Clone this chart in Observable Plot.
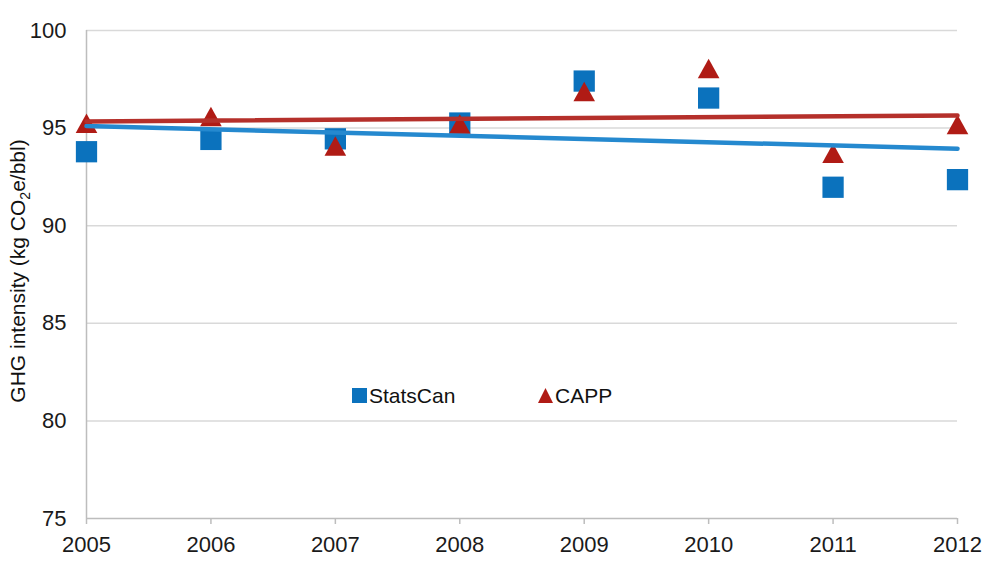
<!DOCTYPE html>
<html>
<head>
<meta charset="utf-8">
<script src="https://cdn.jsdelivr.net/npm/d3@7"></script>
<script src="https://cdn.jsdelivr.net/npm/@observablehq/plot@0.6"></script>
<style>
  html, body { margin: 0; padding: 0; background: #fff; }
  #chart { position: relative; width: 1000px; height: 563px; }
  svg { font-family: "Liberation Sans", Arial, sans-serif; }
</style>
</head>
<body>
<div id="chart"></div>
<script>
const years = [2005, 2006, 2007, 2008, 2009, 2010, 2011, 2012];
const statsCan = [93.79, 94.42, 94.45, 95.26, 97.41, 96.54, 91.97, 92.36];
const capp = [95.25, 95.6, 94.08, 95.21, 96.88, 98.05, 93.71, 95.18];
const yTicks = [75, 80, 85, 90, 95, 100];
const gridTicks = [80, 85, 90, 95, 100];
const seriesNames = ["StatsCan", "CAPP"];

const blue = "#0b72bd";
const blueLine = "#2589cf";
const red = "#b01b15";
const redLine = "#b5302b";

// triangle symbol centred on its bounding box (as in spreadsheet charts)
const boxTriangle = {
  draw(context, size) {
    const r = Math.sqrt(size / Math.PI);
    const hw = 1.35 * r, hh = 1.22 * r;
    context.moveTo(0, -hh);
    context.lineTo(hw, hh);
    context.lineTo(-hw, hh);
    context.closePath();
  }
};

const sc = years.map((x, i) => ({x, y: statsCan[i]}));
const cp = years.map((x, i) => ({x, y: capp[i]}));

const plot = Plot.plot({
  width: 1000,
  height: 563,
  marginLeft: 86,
  marginRight: 43,
  marginTop: 30,
  marginBottom: 45,
  style: {fontFamily: "'Liberation Sans', Arial, sans-serif", fontSize: "22px", color: "#1a1a1a", background: "#fff"},
  x: {domain: [2005, 2012], ticks: years, tickFormat: d3.format("d"), tickSize: 6, tickPadding: 12, label: null, line: false},
  y: {domain: [75, 100], ticks: yTicks, tickSize: 0, tickPadding: 20, label: null},
  marks: [
    Plot.ruleY(gridTicks, {stroke: "#d9d9d9", strokeWidth: 1.5}),
    Plot.ruleY([75], {stroke: "#bdbdbd", strokeWidth: 1.5}),
    Plot.ruleX([2005], {stroke: "#bdbdbd", strokeWidth: 1.5}),
    Plot.dot(sc, {x: "x", y: "y", symbol: "square", r: 12, fill: blue, stroke: "none"}),
    Plot.dot(cp, {x: "x", y: "y", symbol: boxTriangle, r: 8, fill: red, stroke: "none"}),
    Plot.linearRegressionY(sc, {x: "x", y: "y", stroke: blueLine, strokeWidth: 4.5, ci: 0}),
    Plot.linearRegressionY(cp, {x: "x", y: "y", stroke: redLine, strokeWidth: 4.5, ci: 0})
  ]
});

document.getElementById("chart").appendChild(plot);

const svg = d3.select(plot);
svg.selectAll("g[aria-label^='x-axis tick'] *").filter(function(){return this.tagName !== "text";}).attr("stroke", "#bdbdbd").attr("stroke-width", 1.5);

// Y axis label with subscript
const lbl = svg.append("text")
  .attr("transform", "translate(25,271) rotate(-90)")
  .attr("text-anchor", "middle")
  .attr("font-size", 21)
  .attr("fill", "#111");
lbl.append("tspan").text("GHG intensity (kg CO");
lbl.append("tspan").attr("font-size", 14).attr("dy", 5).text("2");
lbl.append("tspan").attr("dy", -5).text("e/bbl)");

// Legend
const leg = svg.append("g").attr("font-size", 21).attr("fill", "#111").attr("text-anchor", "start");
leg.append("rect").attr("x", 352).attr("y", 388).attr("width", 15).attr("height", 15).attr("fill", blue);
leg.append("text").attr("x", 369).attr("y", 403).text(seriesNames[0]);
leg.append("path").attr("d", "M538,403 L545.5,388 L553,403 Z").attr("fill", red);
leg.append("text").attr("x", 555).attr("y", 403).text(seriesNames[1]);
</script>
</body>
</html>
